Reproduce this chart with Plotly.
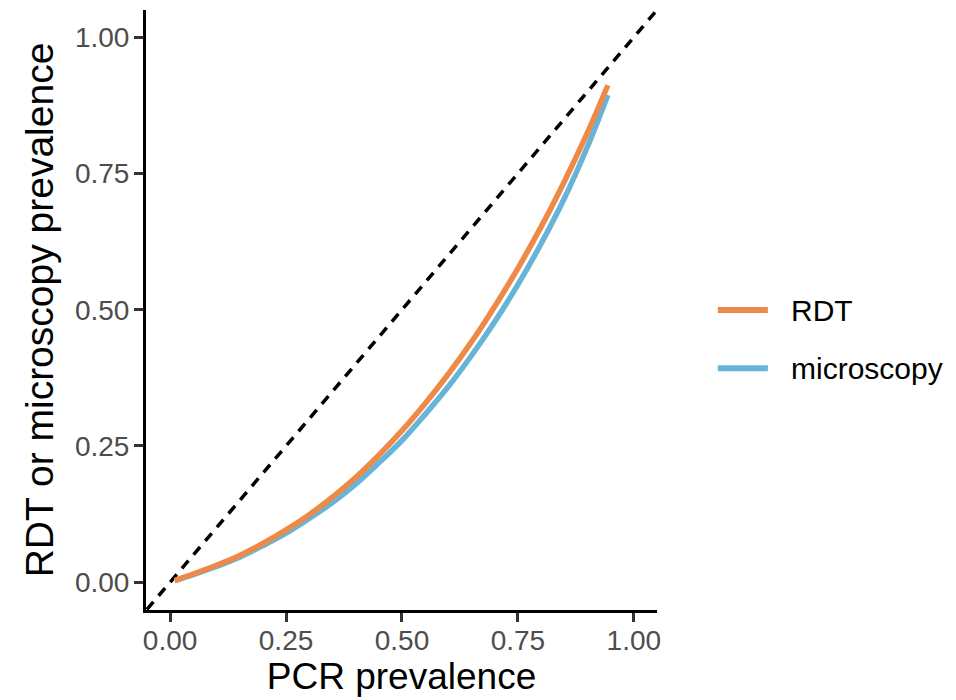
import plotly.graph_objects as go

# PCR prevalence (x) and read-off RDT / microscopy prevalence (y)
pcr = [0.01, 0.05, 0.10, 0.15, 0.20, 0.25, 0.30, 0.35, 0.40, 0.45, 0.50,
       0.55, 0.60, 0.65, 0.70, 0.75, 0.80, 0.85, 0.90, 0.944]
rdt = [0.003, 0.015, 0.031, 0.049, 0.071, 0.096, 0.124, 0.156, 0.192, 0.233,
       0.278, 0.328, 0.382, 0.441, 0.506, 0.576, 0.652, 0.735, 0.825, 0.912]
microscopy = [0.003, 0.014, 0.029, 0.046, 0.067, 0.090, 0.117, 0.146, 0.180,
              0.219, 0.260, 0.308, 0.359, 0.416, 0.478, 0.546, 0.621, 0.704,
              0.799, 0.894]
identity = [-0.05, 1.05]
ticks = [0.0, 0.25, 0.5, 0.75, 1.0]
tick_labels = ["0.00", "0.25", "0.50", "0.75", "1.00"]
legend_names = ["RDT", "microscopy"]

ORANGE = "#EE8A48"
BLUE = "#68B4D9"
FONT = "Liberation Sans, Arial"

fig = go.Figure()
fig.add_trace(go.Scatter(x=identity, y=identity, mode="lines",
                         line=dict(color="black", width=3.5, dash="10px,8px"),
                         showlegend=False, hoverinfo="skip"))
fig.add_trace(go.Scatter(x=pcr, y=microscopy, mode="lines", name="microscopy",
                         line=dict(color=BLUE, width=5.5, shape="spline"),
                         showlegend=False))
fig.add_trace(go.Scatter(x=pcr, y=rdt, mode="lines", name="RDT",
                         line=dict(color=ORANGE, width=5.5, shape="spline"),
                         showlegend=False))

axis_common = dict(
    tickvals=ticks, ticktext=tick_labels,
    showgrid=False, zeroline=False,
    showline=True, linecolor="black", linewidth=3,
    ticks="outside", ticklen=9, tickwidth=3, tickcolor="#333333",
    tickfont=dict(family=FONT, size=28, color="#4D4D4D"),
)

# custom legend keys (paper coordinates, right of panel)
legend_colors = [ORANGE, BLUE]
legend_y = [0.5, 0.403]
for name, col, ly in zip(legend_names, legend_colors, legend_y):
    fig.add_shape(type="line", xref="paper", yref="paper",
                  x0=1.119, x1=1.217, y0=ly, y1=ly,
                  line=dict(color=col, width=6))
    fig.add_annotation(xref="paper", yref="paper", x=1.258, y=ly,
                       text=name, showarrow=False, xanchor="left",
                       yanchor="middle",
                       font=dict(family=FONT, size=30, color="black"))

# note: page body has an 8px default margin, so margins are offset by 8
fig.update_layout(
    width=956, height=700,
    margin=dict(l=138, r=307, t=2, b=98),
    paper_bgcolor="white", plot_bgcolor="white",
    font=dict(family=FONT, color="black"),
    xaxis=dict(**axis_common, range=[-0.052, 1.05], ticklabelstandoff=-6,
               title=dict(text="PCR prevalence",
                          font=dict(size=37, color="black"), standoff=0)),
    yaxis=dict(**axis_common, range=[-0.051, 1.05], ticklabelstandoff=-1,
               title=dict(text="RDT or microscopy prevalence",
                          font=dict(size=39, color="black"), standoff=10)),
    showlegend=False,
)

fig.write_html("out.html")
